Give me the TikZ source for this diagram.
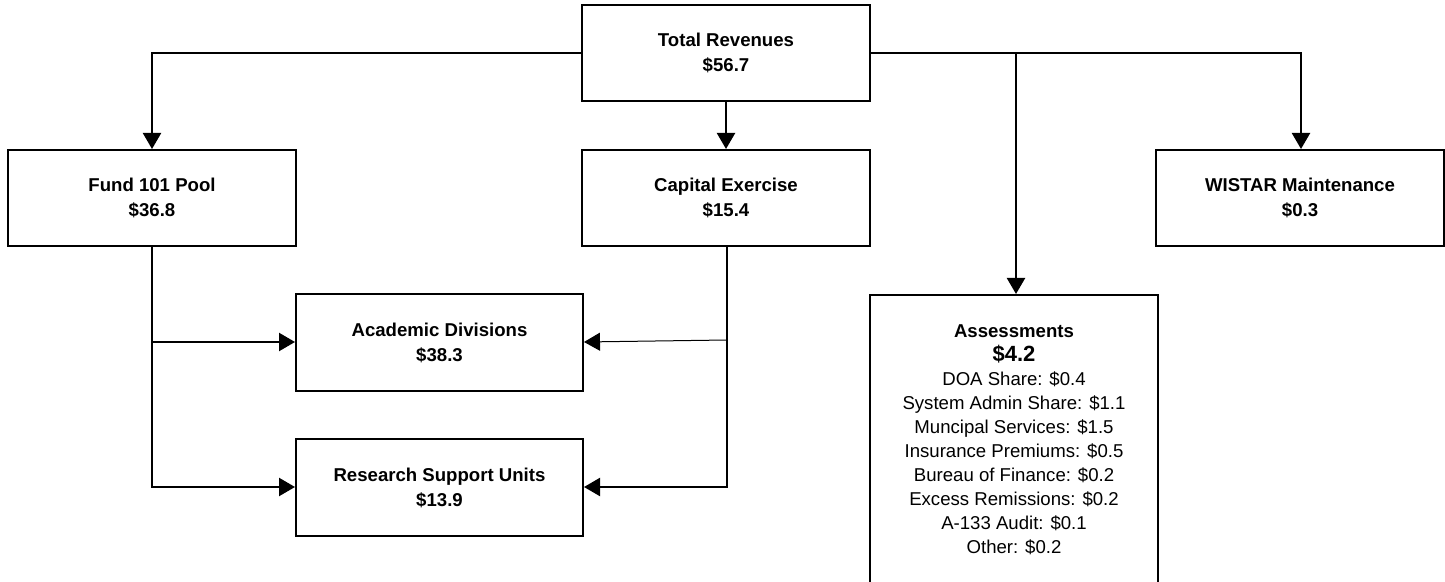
\documentclass[tikz,border=0pt]{standalone}
\usepackage{fontspec}
\setmainfont{Liberation Sans}
\usetikzlibrary{arrows.meta}
\begin{document}
\begin{tikzpicture}[x=0.5pt,y=-0.5pt,
  box/.style={draw, line width=1pt, minimum width=144pt, minimum height=48pt, inner sep=0pt, align=center,
    font=\fontsize{9.3pt}{12.5pt}\selectfont\bfseries},
  conn/.style={line width=1.1pt, -{Triangle[length=8pt,width=9pt]}},
  plain/.style={line width=1pt}]
\useasboundingbox (0,0) rectangle (1445,582);
\clip (0,0) rectangle (1445,582);
\node[box] (total) at (726,53) {Total Revenues\\\$56.7};
\node[box] (fund) at (152,198) {Fund 101 Pool\\\$36.8};
\node[box] (capital) at (726,198) {Capital Exercise\\\$15.4};
\node[box] (wistar) at (1300,198) {WISTAR Maintenance\\\$0.3};
\node[box, minimum width=143.5pt, minimum height=48.5pt] (academic) at (439.5,342.5) {Academic Divisions\\\$38.3};
\node[box, minimum width=143.5pt, minimum height=48.5pt] (research) at (439.5,487.5) {Research Support Units\\\$13.9};
\node[draw, line width=1pt, minimum width=144pt, minimum height=160pt, inner sep=0pt, anchor=north] (assess) at (1014,294) {};
\node[align=center, inner sep=0pt, anchor=north, font=\fontsize{9.3pt}{12pt}\selectfont] (assesstext) at (1014,324)
 {{\bfseries Assessments}\\[0.3pt]
  {\fontsize{11pt}{12pt}\selectfont\bfseries \$4.2}\\
  DOA Share: \$0.4\\
  System Admin Share: \$1.1\\
  Muncipal Services: \$1.5\\
  Insurance Premiums: \$0.5\\
  Bureau of Finance: \$0.2\\
  Excess Remissions: \$0.2\\
  A-133 Audit: \$0.1\\
  Other: \$0.2};
\coordinate (tl) at (152,53);
\coordinate (tr) at (1301,53);
\coordinate (ta) at (1016,53);
\draw[conn] (total.west |- 0,53) -- (tl) -- (fund.north);
\draw[conn] (total.east |- 0,53) -- (tr) -- (wistar.north -| tr);
\draw[conn] (ta) -- (ta |- assess.north);
\draw[conn] (total.south) -- (capital.north);
\coordinate (fb) at (152,487);
\coordinate (fa) at (152,342);
\draw[conn] (fund.south) -- (fb) -- (research.west |- fb);
\draw[conn] (fa) -- (academic.west |- fa);
\coordinate (cb) at (727,487);
\coordinate (ca) at (727,340);
\draw[conn] (capital.south -| cb) -- (cb) -- (research.east |- cb);
\draw[line width=0.5pt, -{Triangle[length=8pt,width=9pt]}] (ca) -- (academic.east |- 0,342);
\end{tikzpicture}
\end{document}
